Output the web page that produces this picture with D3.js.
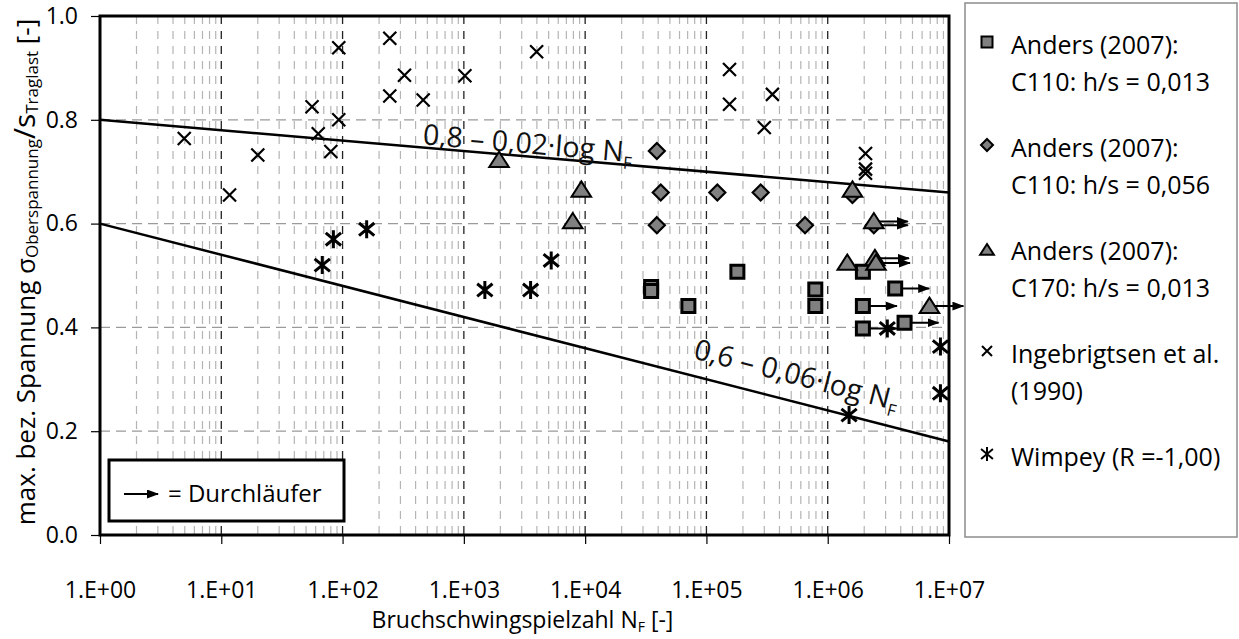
<!DOCTYPE html>
<html>
<head>
<meta charset="utf-8">
<script src="https://cdn.jsdelivr.net/npm/d3@7"></script>
<style>
  body { margin: 0; background: #fff; }
  svg { display: block; font-family: "Open Sans", sans-serif; }
</style>
</head>
<body>
<svg width="1239" height="639"></svg>
<script>
// Anders (2007) C110 h/s = 0,013 (squares)
const squareN = [3.5e4, 3.5e4, 7.1e4, 1.8e5, 7.9e5, 7.9e5, 1.95e6, 1.95e6, 1.95e6, 3.6e6, 4.3e6];
const squareV = [0.478, 0.470, 0.441, 0.507, 0.473, 0.441, 0.507, 0.441, 0.398, 0.475, 0.409];
const squareRun = [false, false, false, false, false, false, false, true, true, true, true];

// Anders (2007) C110 h/s = 0,056 (diamonds)
const diamondN = [3.9e4, 4.2e4, 3.9e4, 1.23e5, 2.8e5, 6.5e5, 1.6e6, 2.4e6];
const diamondV = [0.740, 0.660, 0.597, 0.660, 0.660, 0.597, 0.655, 0.597];
const diamondRun = [false, false, false, false, false, false, false, true];

// Anders (2007) C170 h/s = 0,013 (triangles)
const triangleN = [1.95e3, 7.9e3, 9.3e3, 1.6e6, 2.4e6, 1.45e6, 2.45e6, 2.5e6, 6.9e6];
const triangleV = [0.722, 0.604, 0.665, 0.665, 0.604, 0.524, 0.533, 0.524, 0.441];
const triangleRun = [false, false, false, false, true, false, true, true, true];

// Ingebrigtsen et al. (1990) (crosses)
const crossN = [93, 56, 93, 4.95, 63, 20, 80, 11.7, 245, 324, 245, 462, 1020, 3980,
                1.55e5, 1.55e5, 3.5e5, 3.0e5, 2.05e6, 2.05e6, 2.05e6];
const crossV = [0.939, 0.825, 0.800, 0.764, 0.773, 0.732, 0.739, 0.655, 0.957, 0.886, 0.846, 0.838, 0.885, 0.931,
                0.897, 0.830, 0.849, 0.785, 0.735, 0.705, 0.697];

// Wimpey (R = -1,00) (asterisks)
const asteriskN = [68, 84, 158, 1490, 3550, 5250, 3.1e6, 8.5e6, 8.5e6, 1.5e6];
const asteriskV = [0.520, 0.570, 0.589, 0.472, 0.472, 0.529, 0.398, 0.363, 0.273, 0.231];

// Reference lines: a - b*log N
const lineA = [0.8, 0.6];
const lineB = [0.02, 0.06];

const xTicks = [1, 1e1, 1e2, 1e3, 1e4, 1e5, 1e6, 1e7];
const yTicks = [0, 0.2, 0.4, 0.6, 0.8, 1.0];

const svg = d3.select("svg");
const margin = {left: 100, right: 949, top: 16, bottom: 535};

const x = d3.scaleLog().domain([1, 1e7]).range([margin.left, margin.right]);
const y = d3.scaleLinear().domain([0, 1]).range([margin.bottom, margin.top]);

// arrowhead
svg.append("defs").append("marker")
    .attr("id", "arrow")
    .attr("markerUnits", "userSpaceOnUse")
    .attr("markerWidth", 12).attr("markerHeight", 10)
    .attr("refX", 11).attr("refY", 4.5)
    .attr("orient", "auto")
  .append("path")
    .attr("d", "M0,0L12,4.5L0,9Z")
    .attr("fill", "#000");

// grid
const grid = svg.append("g");
const minor = [];
for (let e = 0; e < 7; e++) for (let m = 2; m <= 9; m++) minor.push(m * Math.pow(10, e));
grid.selectAll(".minor").data(minor).join("line")
    .attr("x1", d => x(d)).attr("x2", d => x(d))
    .attr("y1", margin.top).attr("y2", margin.bottom)
    .attr("stroke", "#b4b4b4").attr("stroke-width", 1.2)
    .attr("stroke-dasharray", "8,7");
grid.selectAll(".major").data(xTicks.slice(1, -1)).join("line")
    .attr("x1", d => x(d)).attr("x2", d => x(d))
    .attr("y1", margin.top).attr("y2", margin.bottom)
    .attr("stroke", "#222").attr("stroke-width", 1.3)
    .attr("stroke-dasharray", "8,7");
grid.selectAll(".hgrid").data(yTicks.slice(1, -1)).join("line")
    .attr("x1", margin.left).attr("x2", margin.right)
    .attr("y1", d => y(d)).attr("y2", d => y(d))
    .attr("stroke", "#9a9a9a").attr("stroke-width", 1.3)
    .attr("stroke-dasharray", "10,6");

// reference lines
const lineData = lineA.map((a, i) => [1, 1e7].map(n => [n, a - lineB[i] * Math.log10(n)]));
const line = d3.line().x(d => x(d[0])).y(d => y(d[1]));
svg.append("g").selectAll("path").data(lineData).join("path")
    .attr("d", line)
    .attr("fill", "none").attr("stroke", "#000").attr("stroke-width", 2.5);

// line labels
const labelStart = [Math.pow(10, 2.655), Math.pow(10, 4.85)];
const labelOffset = [-3, -17];
lineA.forEach((a, i) => {
    const n0 = labelStart[i];
    const px = x(n0), py = y(a - lineB[i] * Math.log10(n0));
    const ang = Math.atan2(y(a - lineB[i] * 7) - y(a), x(1e7) - x(1)) * 180 / Math.PI;
    const t = svg.append("text")
        .attr("transform", `translate(${px},${py}) rotate(${ang})`)
        .attr("y", labelOffset[i])
        .attr("font-size", 28.5).attr("fill", "#111");
    t.append("tspan").text(`${String(a).replace(".", ",")} – ${String(lineB[i]).replace(".", ",")}·log N`);
    t.append("tspan").attr("font-size", 17).attr("dy", 7).text("F");
});

function markerPath(type, r) {
    switch (type) {
        case "square": return `M${-r},${-r}H${r}V${r}H${-r}Z`;
        case "diamond": return `M0,${-r}L${r},0L0,${r}L${-r},0Z`;
        case "triangle": return `M0,${-r}L${r * 1.15},${r * 0.8}L${-r * 1.15},${r * 0.8}Z`;
        case "cross": return `M${-r},${-r}L${r},${r}M${r},${-r}L${-r},${r}`;
        case "asterisk": return `M0,${-r}V${r}M${-r * 0.85},${-r * 0.7}L${r * 0.85},${r * 0.7}M${r * 0.85},${-r * 0.7}L${-r * 0.85},${r * 0.7}`;
    }
}

const series = [
    {type: "square", n: squareN, v: squareV, run: squareRun, r: 6.5, sw: 3},
    {type: "diamond", n: diamondN, v: diamondV, run: diamondRun, r: 8, sw: 2.2},
    {type: "triangle", n: triangleN, v: triangleV, run: triangleRun, r: 8.5, sw: 2},
    {type: "cross", n: crossN, v: crossV, run: null, r: 6.5, sw: 2.2},
    {type: "asterisk", n: asteriskN, v: asteriskV, run: null, r: 9, sw: 3}
];

// runout arrows
const arrows = [];
series.forEach(s => {
    if (!s.run) return;
    s.n.forEach((n, i) => { if (s.run[i]) arrows.push([n, s.v[i]]); });
});
svg.append("g").selectAll("line").data(arrows).join("line")
    .attr("x1", d => x(d[0])).attr("x2", d => x(d[0]) + 34)
    .attr("y1", d => y(d[1])).attr("y2", d => y(d[1]))
    .attr("stroke", "#000").attr("stroke-width", 2)
    .attr("marker-end", "url(#arrow)");

// points
series.forEach(s => {
    const open = s.type === "cross" || s.type === "asterisk";
    svg.append("g").selectAll("path").data(s.n.map((n, i) => [n, s.v[i]])).join("path")
        .attr("transform", d => `translate(${x(d[0])},${y(d[1])})`)
        .attr("d", markerPath(s.type, s.r))
        .attr("fill", open ? "none" : "#808080")
        .attr("stroke", "#000").attr("stroke-width", s.sw)
        .attr("stroke-linejoin", "miter");
});

// frame and ticks
svg.append("rect")
    .attr("x", margin.left).attr("y", margin.top)
    .attr("width", margin.right - margin.left).attr("height", margin.bottom - margin.top)
    .attr("fill", "none").attr("stroke", "#000").attr("stroke-width", 3);

const fmt = d => "1.E+" + String(Math.round(Math.log10(d))).padStart(2, "0");
const xAxis = svg.append("g")
    .attr("transform", `translate(0,${margin.bottom})`)
    .call(d3.axisBottom(x).tickValues(xTicks).tickFormat(fmt).tickSize(9).tickPadding(54));
const yAxis = svg.append("g")
    .attr("transform", `translate(${margin.left},0)`)
    .call(d3.axisLeft(y).tickValues(yTicks).tickFormat(d3.format(".1f")).tickSize(9).tickPadding(13));
[xAxis, yAxis].forEach(g => {
    g.select(".domain").remove();
    g.selectAll("line").attr("stroke", "#000").attr("stroke-width", 1.2);
    g.selectAll("text").attr("font-size", 23).attr("fill", "#000").attr("font-family", "Open Sans");
});
xAxis.selectAll("text").attr("dy", "0");

// axis titles
const xt = svg.append("text")
    .attr("x", (margin.left + margin.right) / 2 - 2).attr("y", 628)
    .attr("text-anchor", "middle").attr("font-size", 23);
xt.append("tspan").text("Bruchschwingspielzahl N");
xt.append("tspan").attr("font-size", 14).attr("dy", 4).text("F");
xt.append("tspan").attr("dy", -4).text(" [-]");

const yt = svg.append("text")
    .attr("transform", `translate(35,272) rotate(-90)`)
    .attr("text-anchor", "middle").attr("font-size", 26);
yt.append("tspan").text("max. bez. Spannung σ");
yt.append("tspan").attr("font-size", 17).attr("dy", 3).text("Oberspannung");
yt.append("tspan").attr("dy", -3).attr("font-size", 30).text("/s");
yt.append("tspan").attr("font-size", 17).attr("dy", 3).text("Traglast");
yt.append("tspan").attr("dy", -3).text(" [-]");

// runout key box
const key = svg.append("g");
key.append("rect")
    .attr("x", 109).attr("y", 460).attr("width", 235).attr("height", 61)
    .attr("fill", "#fff").attr("stroke", "#000").attr("stroke-width", 3);
key.append("line")
    .attr("x1", 124).attr("x2", 158).attr("y1", 494).attr("y2", 494)
    .attr("stroke", "#000").attr("stroke-width", 2).attr("marker-end", "url(#arrow)");
key.append("text").attr("x", 168).attr("y", 502).attr("font-size", 24).text("= Durchläufer");

// legend
const legendLines = [
    ["Anders (2007):", "C110: h/s = 0,013"],
    ["Anders (2007):", "C110: h/s = 0,056"],
    ["Anders (2007):", "C170: h/s = 0,013"],
    ["Ingebrigtsen et al.", "(1990)"],
    ["Wimpey (R =-1,00)"]
];
const lg = svg.append("g");
lg.append("rect")
    .attr("x", 965).attr("y", 3).attr("width", 272).attr("height", 534)
    .attr("fill", "#fff").attr("stroke", "#8c8c8c").attr("stroke-width", 1.5);
const legendSize = [5.5, 6, 6, 5, 7];
series.forEach((s, i) => {
    const cy = 42 + i * 103;
    const open = s.type === "cross" || s.type === "asterisk";
    lg.append("path")
        .attr("transform", `translate(987,${cy + (s.type === "triangle" ? 2 : 0)})`)
        .attr("d", markerPath(s.type, legendSize[i]))
        .attr("fill", open ? "none" : "#808080")
        .attr("stroke", "#000").attr("stroke-width", 2);
    legendLines[i].forEach((t, j) => {
        lg.append("text").attr("x", 1011).attr("y", cy + 12 + j * 37)
            .attr("font-size", 25).text(t);
    });
});
</script>
</body>
</html>
